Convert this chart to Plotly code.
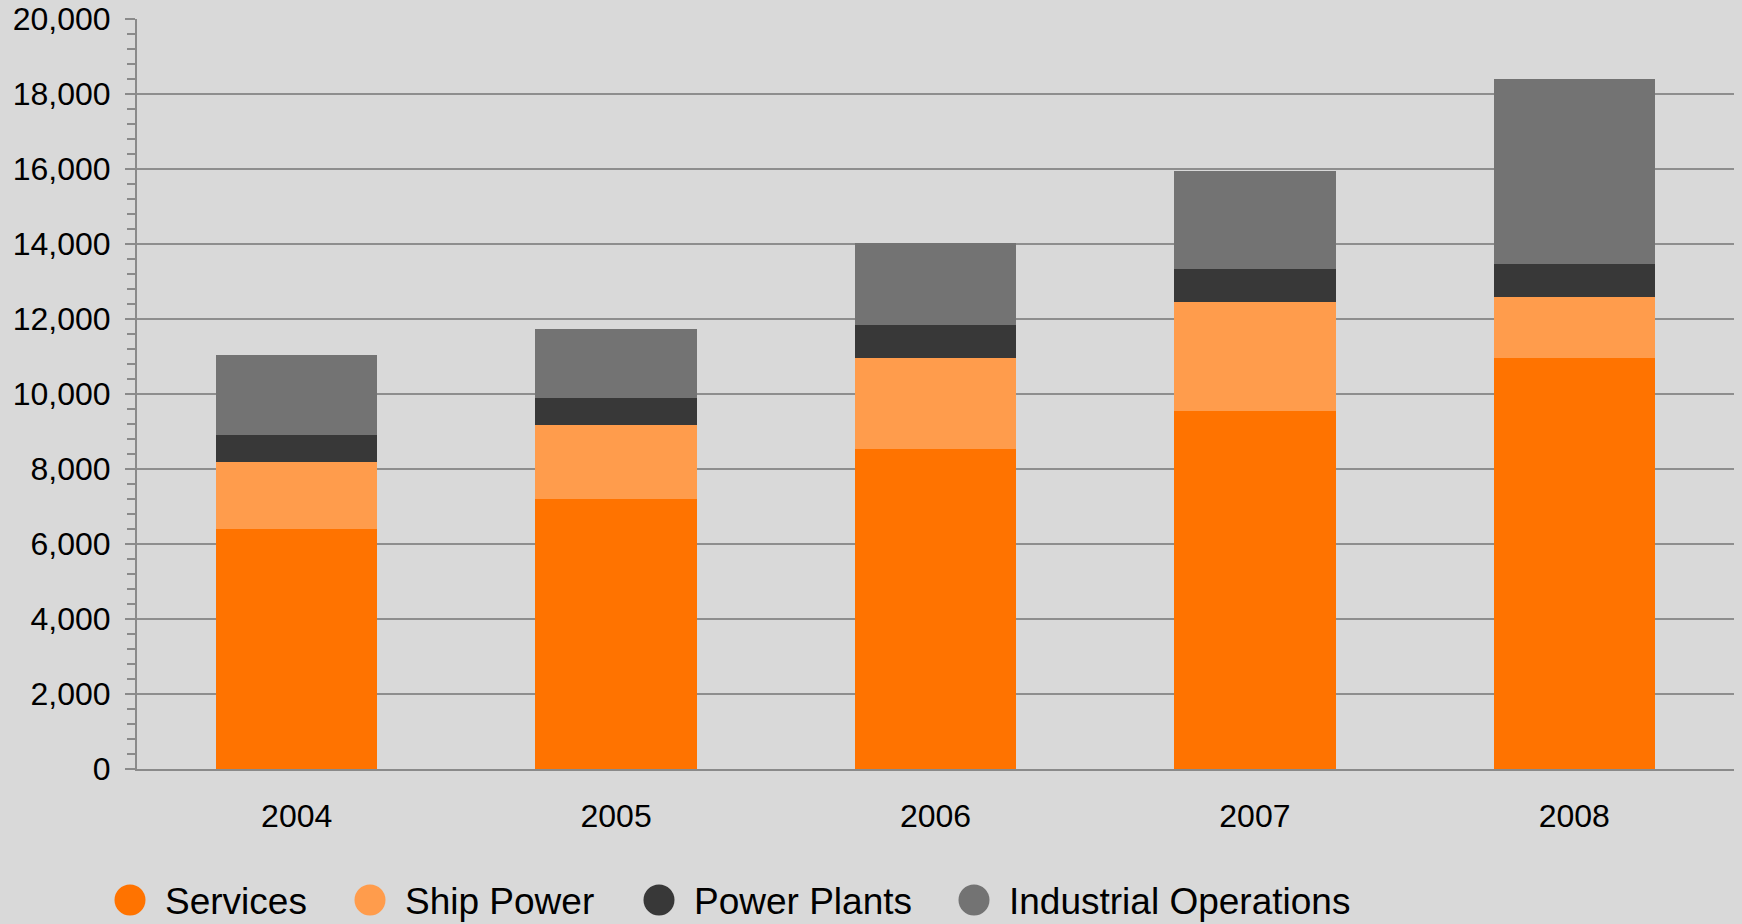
import plotly.graph_objects as go

years = ["2004", "2005", "2006", "2007", "2008"]
services = [6400, 7200, 8530, 9550, 10960]
ship_power = [1790, 1970, 2430, 2900, 1630]
power_plants = [720, 720, 880, 880, 880]
industrial_ops = [2130, 1840, 2190, 2620, 4930]

series_names = ["Services", "Ship Power", "Power Plants", "Industrial Operations"]
series_values = [services, ship_power, power_plants, industrial_ops]
colors = ["#FF7300", "#FF9C4C", "#383838", "#737373"]

FONT = "Liberation Sans, Arial, sans-serif"

# layout geometry (pixels)
W, H = 1742, 924
ML, MR, MT, MB = 137, 8, 19, 155
PW, PH = W - ML - MR, H - MT - MB
legend_px = [130, 370, 659, 974]   # legend marker centres
legend_py = 900

def px_x(p):
    return (p - ML) / PW

def px_y(p):
    return (H - MB - p) / PH

fig = go.Figure()
for name, vals, col in zip(series_names, series_values, colors):
    fig.add_trace(go.Bar(x=years, y=vals, name=name, marker=dict(color=col, line=dict(width=0)),
                         showlegend=False))

shapes = []
annotations = []
for name, col, lx in zip(series_names, colors, legend_px):
    shapes.append(dict(type="circle", xref="paper", yref="paper",
                       xsizemode="pixel", ysizemode="pixel",
                       xanchor=px_x(lx), yanchor=px_y(legend_py),
                       x0=-15.5, x1=15.5, y0=-15.5, y1=15.5,
                       fillcolor=col, line=dict(width=0)))
    annotations.append(dict(text=name, xref="paper", yref="paper",
                            x=px_x(lx + 33), y=px_y(legend_py + 1),
                            xanchor="left", yanchor="middle", showarrow=False,
                            font=dict(size=37, family=FONT, color="#000000")))

fig.update_layout(
    width=W, height=H,
    barmode="stack", bargap=0.495,
    paper_bgcolor="#D9D9D9", plot_bgcolor="#D9D9D9",
    margin=dict(l=ML, r=MR, t=MT, b=MB, autoexpand=False),
    font=dict(family=FONT, size=32, color="#000000"),
    showlegend=False,
    shapes=shapes, annotations=annotations,
    xaxis=dict(type="category", showgrid=False, showline=True, linecolor="#8A8A8A",
               linewidth=2, ticks="", tickfont=dict(size=32), ticklabelstandoff=18,
               automargin=False),
    yaxis=dict(range=[0, 20000], dtick=2000, tickformat=",d", showgrid=True,
               gridcolor="#8E8E8E", gridwidth=1.5, showline=True, linecolor="#8A8A8A",
               linewidth=2, ticks="outside", ticklen=10, tickwidth=2, tickcolor="#8A8A8A",
               ticklabelstandoff=8, zeroline=False, automargin=False,
               minor=dict(dtick=400, ticks="outside", ticklen=8, tickwidth=2,
                          tickcolor="#8A8A8A", showgrid=False)),
)

fig.write_html("out.html", config={"displayModeBar": False},
               post_script="document.body.style.margin='0';")
